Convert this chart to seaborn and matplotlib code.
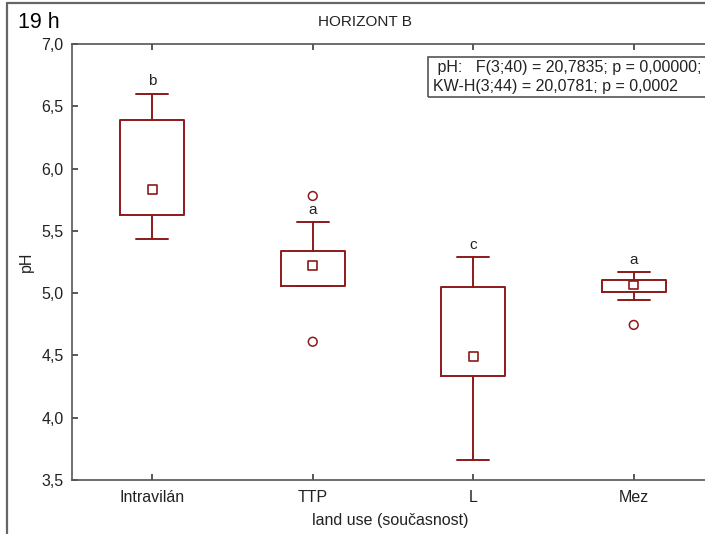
import matplotlib
matplotlib.use("Agg")
import matplotlib.pyplot as plt
import seaborn as sns
import pandas as pd
from matplotlib.lines import Line2D
from matplotlib.patches import Rectangle

# ---- data ----
categories = ["Intravilán", "TTP", "L", "Mez"]
medians = [5.83, 5.22, 4.49, 5.065]
q1 = [5.63, 5.06, 4.335, 5.01]
q3 = [6.39, 5.34, 5.05, 5.105]
whisker_low = [5.435, 5.055, 3.66, 4.945]
whisker_high = [6.60, 5.57, 5.29, 5.17]
outlier_cat = ["TTP", "TTP", "Mez"]
outlier_val = [5.78, 4.61, 4.745]
group_letters = ["b", "a", "c", "a"]
ytick_vals = [3.5, 4.0, 4.5, 5.0, 5.5, 6.0, 6.5, 7.0]
ytick_labels = ["3,5", "4,0", "4,5", "5,0", "5,5", "6,0", "6,5", "7,0"]
stats_text = " pH:   F(3;40) = 20,7835; p = 0,00000;\nKW-H(3;44) = 20,0781; p = 0,0002"

sns.set_theme(style="ticks")
plt.rcParams["font.family"] = ["Liberation Sans", "DejaVu Sans"]

W, H = 705, 534
fig = plt.figure(figsize=(W / 100, H / 100), dpi=100)
fig.patch.set_facecolor("white")
ax = fig.add_axes([72 / W, 54 / H, 642 / W, 436 / H])

dark_red = "#8b1a1a"
pos = list(range(len(categories)))
stats = []
for i, c in enumerate(categories):
    stats.append(dict(med=medians[i], q1=q1[i], q3=q3[i],
                      whislo=whisker_low[i], whishi=whisker_high[i],
                      fliers=[], label=c))
ax.bxp(stats, positions=pos, widths=0.4, capwidths=0.2,
       showfliers=False,
       boxprops=dict(color=dark_red, linewidth=1.4),
       whiskerprops=dict(color=dark_red, linewidth=1.4),
       capprops=dict(color=dark_red, linewidth=1.4),
       medianprops=dict(linestyle="none"))

med_df = pd.DataFrame({"x": pos, "y": medians})
sns.scatterplot(data=med_df, x="x", y="y", ax=ax, marker="s", s=38,
                facecolor="none", edgecolor=dark_red, linewidth=1.2, zorder=5)
out_df = pd.DataFrame({"x": [categories.index(c) for c in outlier_cat], "y": outlier_val})
sns.scatterplot(data=out_df, x="x", y="y", ax=ax, marker="o", s=40,
                facecolor="none", edgecolor=dark_red, linewidth=1.1, zorder=5)

for i, lt in enumerate(group_letters):
    ax.text(pos[i], whisker_high[i] + 0.1, lt, ha="center", va="center",
            fontsize=11, color="#222222")

ax.set_xlim(-0.5, len(categories) - 0.5)
ax.set_ylim(3.5, 7.0)
ax.set_xticks(pos)
ax.set_xticklabels(categories)
ax.set_yticks(ytick_vals)
ax.set_yticklabels(ytick_labels)
ax.tick_params(axis="x", direction="in", length=4, top=True, pad=7,
               labelsize=11.5, colors="#222222", color="#444444")
ax.tick_params(axis="y", direction="in", length=4, pad=6,
               labelsize=11.5, colors="#222222", color="#444444")
for s in ["left", "bottom", "top"]:
    ax.spines[s].set_color("#555555")
    ax.spines[s].set_linewidth(1.2)
ax.spines["right"].set_visible(False)
ax.set_xlabel("land use (současnost)", fontsize=11.5, color="#222222")
ax.set_ylabel("pH", fontsize=11.5, color="#222222")
ax.xaxis.set_label_coords((390 - 72) / 642, -(513 - 480) / 436)
ax.yaxis.set_label_coords(-(72 - 34) / 642, 0.5)

# stats box
fig.text(433 / W, 1 - 77 / H, stats_text, fontsize=11.5, color="#222222",
         ha="left", va="center", linespacing=1.3)
fig.add_artist(Rectangle((428 / W, 1 - 97 / H), 290 / W, 40 / H,
                         transform=fig.transFigure, fill=False,
                         edgecolor="#555555", linewidth=1.2))

# titles
fig.text(365 / W, 1 - 22 / H, "HORIZONT B", fontsize=11, ha="center",
         va="center", color="#222222")
fig.text(18 / W, 1 - 22 / H, "19 h", fontsize=15.5, ha="left", va="center",
         color="black")

# outer frame lines
fig.add_artist(Line2D([7 / W, 7 / W], [0, 1 - 3 / H], transform=fig.transFigure,
                      color="#666666", linewidth=1.6))
fig.add_artist(Line2D([7 / W, 1], [1 - 3 / H, 1 - 3 / H], transform=fig.transFigure,
                      color="#666666", linewidth=1.6))

fig.savefig("out.png", dpi=100)
